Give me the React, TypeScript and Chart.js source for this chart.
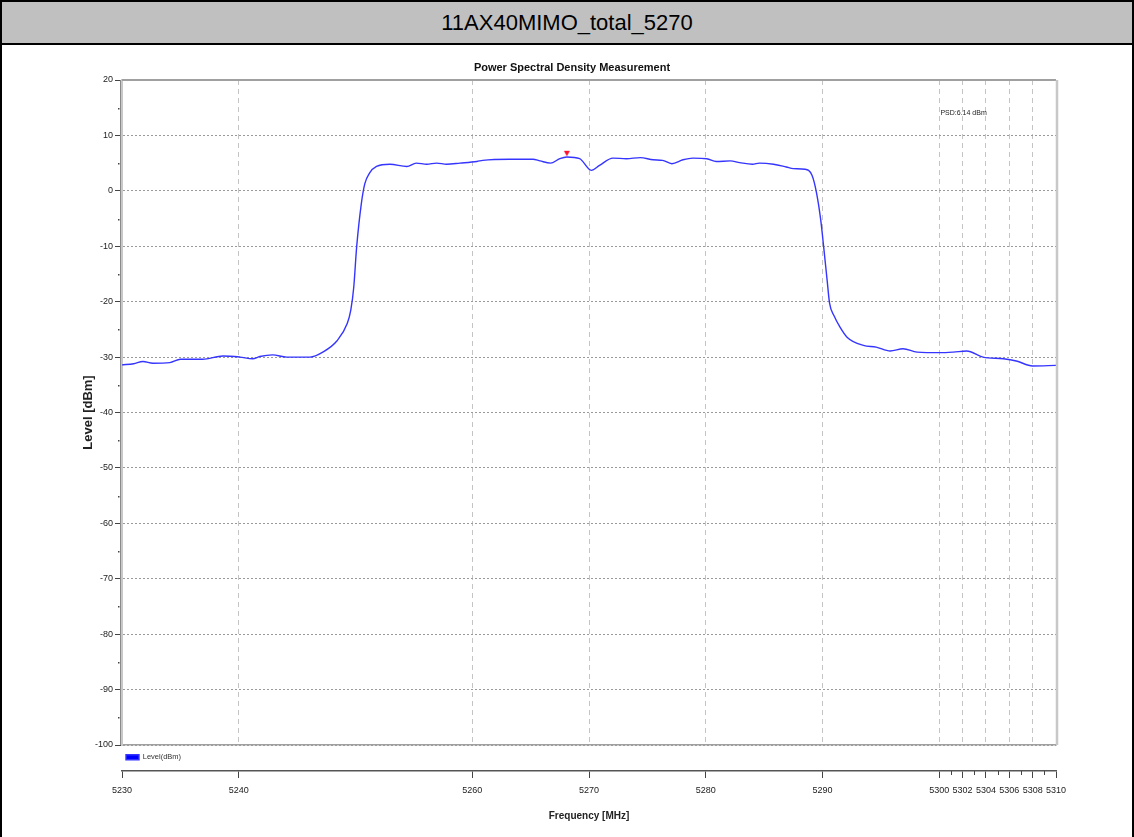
import React, { useEffect, useRef } from "react";
import { Chart, registerables } from "chart.js";

Chart.register(...registerables);

const PAGE_TITLE = "11AX40MIMO_total_5270";
const CHART_TITLE = "Power Spectral Density Measurement";
const SERIES_LABEL = "Level(dBm)";
const X_TITLE = "Frequency [MHz]";
const Y_TITLE = "Level [dBm]";

const FREQ_MHZ = [
  5230.0, 5231.0, 5231.8, 5232.65, 5234.1, 5235.0, 5236.9, 5238.65, 5240.1, 5241.2,
  5241.8, 5242.9, 5244.1, 5246.1, 5247.2, 5248.4, 5249.3, 5249.6, 5249.85, 5250.1,
  5250.5, 5250.8, 5251.2, 5251.8, 5252.95, 5254.4, 5255.2, 5256.1, 5256.95, 5257.8,
  5258.95, 5260.4, 5260.9, 5263.2, 5265.2, 5265.8, 5266.7, 5267.5, 5268.1, 5269.2,
  5270.2, 5270.9, 5272.05, 5273.2, 5274.4, 5275.5, 5276.3, 5277.1, 5278.05, 5278.9,
  5280.1, 5280.9, 5282.1, 5282.9, 5284.0, 5284.6, 5285.8, 5286.9, 5287.5, 5288.5,
  5289.1, 5289.5, 5289.85, 5290.1, 5290.4, 5290.6, 5291.0, 5291.5, 5292.1, 5293.5, 5294.6,
  5295.8, 5296.9, 5298.1, 5300.1, 5301.2, 5302.35, 5303.75, 5305.5, 5306.6, 5308.0,
  5310.0,
];

const LEVEL_DBM = [
  -31.4, -31.2, -30.8, -31.1, -31.0, -30.4, -30.4, -29.8, -30.0, -30.3,
  -29.9, -29.6, -30.0, -30.0, -29.1, -27.1, -23.9, -21.5, -17.4, -10.1,
  -2.3, 1.3, 3.2, 4.4, 4.8, 4.4, 5.0, 4.8, 5.0, 4.8,
  5.0, 5.3, 5.5, 5.7, 5.7, 5.4, 5.0, 5.8, 6.1, 5.8,
  3.7, 4.6, 5.9, 5.8, 6.0, 5.6, 5.5, 4.9, 5.6, 5.9,
  5.8, 5.3, 5.4, 5.1, 4.8, 5.0, 4.8, 4.3, 4.0, 3.9,
  2.8, -0.5, -5.3, -10.1, -16.2, -20.2, -22.6, -24.6, -26.4, -27.9, -28.2,
  -28.9, -28.5, -29.1, -29.2, -29.1, -28.9, -30.0, -30.3, -30.7, -31.6,
  -31.5,
];

const MARKER_FREQ = 5268.1;
const MARKER_LEVEL = 6.14;
const ANNOT_TEXT = "PSD:6.14 dBm";
const ANNOT_FREQ = 5300.1;
const ANNOT_LEVEL = 14;

const X_MIN = 5230;
const X_MAX = 5310;
const Y_MIN = -100;
const Y_MAX = 20;
const X_TICKS = [5230, 5240, 5260, 5270, 5280, 5290, 5300, 5302, 5304, 5306, 5308, 5310];
const X_GRID = [5240, 5260, 5270, 5280, 5290, 5300, 5302, 5304, 5306, 5308];
const X_MINOR = [5301, 5303, 5305, 5307, 5309];
const Y_MINOR = [15, 5, -5, -15, -25, -35, -45, -55, -65, -75, -85, -95];

const NARROW = "'Liberation Sans Narrow', 'Arial Narrow', 'Liberation Sans', Arial, sans-serif";

export default function App() {
  const ref = useRef<HTMLCanvasElement | null>(null);

  useEffect(() => {
    const canvas = ref.current;
    if (!canvas) return;

    const marker = document.createElement("canvas");
    marker.width = 8;
    marker.height = 14;
    const mctx = marker.getContext("2d");
    if (mctx) {
      mctx.fillStyle = "#ff1030";
      mctx.beginPath();
      mctx.moveTo(1, 1);
      mctx.lineTo(7, 1);
      mctx.lineTo(4, 6.5);
      mctx.closePath();
      mctx.fill();
    }

    const extras = {
      id: "extras",
      afterDraw(chart: any) {
        const { ctx, chartArea } = chart;
        const x2 = chart.scales.x2;
        const y = chart.scales.y;
        const xs = chart.scales.x;
        ctx.save();
        ctx.strokeStyle = "#a0a0a0";
        ctx.lineWidth = 2;
        ctx.beginPath();
        ctx.moveTo(chartArea.left, chartArea.top);
        ctx.lineTo(chartArea.right, chartArea.top);
        ctx.stroke();
        ctx.strokeStyle = "#c8c8c8";
        ctx.lineWidth = 2.5;
        ctx.beginPath();
        ctx.moveTo(chartArea.right + 1, chartArea.top);
        ctx.lineTo(chartArea.right + 1, chartArea.bottom);
        ctx.stroke();
        ctx.strokeStyle = "#8a8a8a";
        ctx.lineWidth = 1;
        ctx.beginPath();
        ctx.moveTo(chartArea.left - 1.5, chartArea.top);
        ctx.lineTo(chartArea.left - 1.5, chartArea.bottom);
        ctx.stroke();
        ctx.strokeStyle = "#444";
        ctx.lineWidth = 1;
        X_MINOR.forEach((v) => {
          const px = Math.round(x2.getPixelForValue(v)) + 0.5;
          ctx.beginPath();
          ctx.moveTo(px, x2.top);
          ctx.lineTo(px, x2.top + 4);
          ctx.stroke();
        });
        ctx.fillStyle = "#444";
        Y_MINOR.forEach((v) => {
          const py = Math.round(y.getPixelForValue(v));
          ctx.fillRect(chartArea.left - 4, py, 1.5, 1.5);
        });
        ctx.fillStyle = "#222";
        ctx.font = `7px ${NARROW}`;
        ctx.textAlign = "left";
        ctx.textBaseline = "middle";
        ctx.fillText(ANNOT_TEXT, xs.getPixelForValue(ANNOT_FREQ), y.getPixelForValue(ANNOT_LEVEL));
        ctx.restore();
      },
    };

    const chart = new Chart(canvas, {
      type: "line",
      data: {
        datasets: [
          {
            label: SERIES_LABEL,
            data: FREQ_MHZ.map((f, i) => ({ x: f, y: LEVEL_DBM[i] })),
            borderColor: "#3535ff",
            backgroundColor: "#0000ff",
            borderWidth: 1.4,
            pointRadius: 0,
            cubicInterpolationMode: "monotone",
            fill: false,
            xAxisID: "x",
            yAxisID: "y",
          },
          {
            label: "marker",
            data: [{ x: MARKER_FREQ, y: MARKER_LEVEL }],
            showLine: false,
            pointStyle: marker as any,
            pointRadius: 4,
            borderWidth: 0,
            xAxisID: "x",
            yAxisID: "y",
          },
        ],
      },
      options: {
        responsive: false,
        animation: false,
        events: [],
        layout: { padding: { left: 58, right: 48, top: 0, bottom: 0 } },
        plugins: {
          title: {
            display: true,
            text: CHART_TITLE,
            color: "#111",
            font: { family: NARROW, size: 11, weight: "bold" },
            padding: { top: 16.4, bottom: 5.4 },
          },
          legend: {
            display: true,
            position: "bottom",
            align: "start",
            fullSize: false,
            weight: 1,
            labels: {
              boxWidth: 13,
              boxHeight: 5,
              padding: 4,
              color: "#333",
              font: { family: NARROW, size: 7.5 },
              filter: (item: any) => item.datasetIndex === 0,
            },
          } as any,
          tooltip: { enabled: false },
        },
        scales: {
          x: {
            type: "linear",
            position: "bottom",
            weight: 0,
            min: X_MIN,
            max: X_MAX,
            afterBuildTicks: (s: any) => {
              s.ticks = X_GRID.map((v) => ({ value: v }));
            },
            afterFit: (s: any) => {
              s.height = 4.5;
            },
            ticks: { display: false },
            grid: { color: "#c4c4c4", lineWidth: 1, drawTicks: false },
            border: { display: true, color: "#a0a0a0", width: 1.5, dash: [5, 4] },
          },
          x2: {
            type: "linear",
            position: "bottom",
            weight: 2,
            min: X_MIN,
            max: X_MAX,
            afterBuildTicks: (s: any) => {
              s.ticks = X_TICKS.map((v) => ({ value: v }));
            },
            afterFit: (s: any) => {
              s.height = 66;
            },
            ticks: {
              autoSkip: false,
              maxRotation: 0,
              padding: 7.6,
              color: "#222",
              font: { family: NARROW, size: 9 },
              callback: (v: any) => String(v),
            },
            grid: { drawOnChartArea: false, drawTicks: true, tickLength: 7, tickColor: "#444", tickWidth: 1 },
            border: { display: true, color: "#555", width: 1.5 },
            title: {
              display: true,
              text: X_TITLE,
              color: "#222",
              font: { family: NARROW, size: 10, weight: "bold" },
              padding: { top: 0, bottom: 14.3 },
            },
          },
          y: {
            type: "linear",
            position: "left",
            min: Y_MIN,
            max: Y_MAX,
            afterFit: (s: any) => {
              s.width = 62;
            },
            ticks: {
              stepSize: 10,
              padding: 2,
              color: "#222",
              font: { family: NARROW, size: 9 },
            },
            grid: { color: "#9a9a9a", lineWidth: 1, drawTicks: true, tickLength: 7, tickColor: "#444", tickWidth: 1 },
            border: { display: true, color: "#c8c8c8", width: 2, dash: [2, 2] },
            title: {
              display: true,
              text: Y_TITLE,
              color: "#222",
              font: { family: NARROW, size: 13, weight: "bold" },
              padding: { top: 20.2, bottom: 0 },
            },
          },
          yr: {
            type: "linear",
            position: "right",
            min: 0,
            max: 1,
            afterFit: (s: any) => {
              s.width = 28;
            },
            ticks: { display: false },
            grid: { display: false, drawTicks: false },
            border: { display: false },
          },
        },
      },
      plugins: [extras],
    });

    return () => chart.destroy();
  }, []);

  return (
    <div
      style={{
        position: "absolute",
        left: 0,
        top: 0,
        width: 1134,
        height: 837,
        boxSizing: "border-box",
        borderLeft: "2px solid #000",
        borderRight: "2px solid #000",
        borderTop: "2px solid #000",
        background: "#fff",
        overflow: "hidden",
      }}
    >
      <div
        style={{
          height: 41,
          background: "#c0c0c0",
          borderBottom: "2px solid #000",
          display: "flex",
          alignItems: "center",
          justifyContent: "center",
          fontFamily: "'Liberation Sans', Arial, sans-serif",
          fontSize: 22,
          color: "#000",
        }}
      >
        {PAGE_TITLE}
      </div>
      <canvas ref={ref} width={1130} height={792} style={{ display: "block", width: 1130, height: 792 }} />
    </div>
  );
}
